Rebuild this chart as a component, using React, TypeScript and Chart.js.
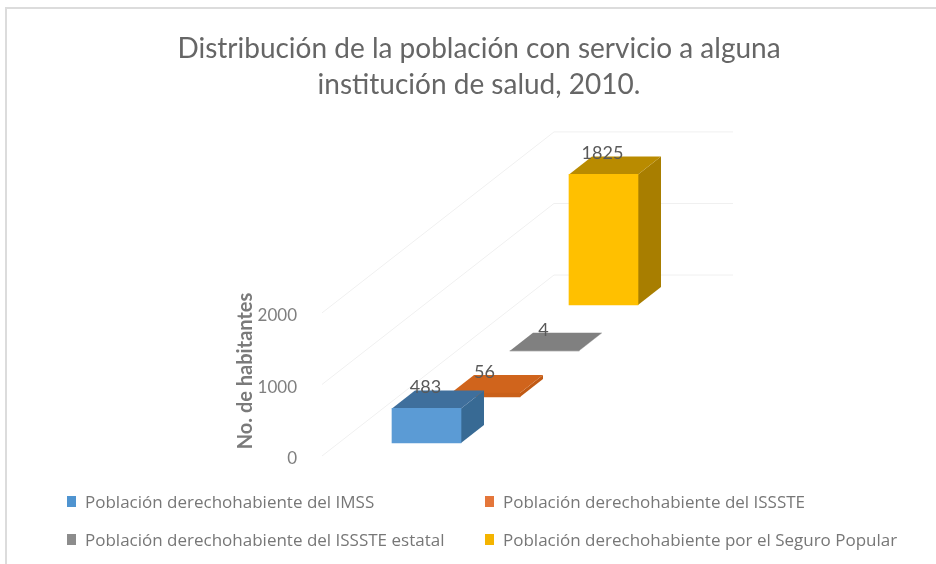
import React, { useEffect, useRef } from "react";
import { Chart, registerables } from "chart.js";

Chart.register(...registerables);

const titleLines = ["Distribución de la población con servicio a alguna", "institución de salud, 2010."];
const axisTitle = "No. de habitantes";
const categories = ["2010"];
const seriesNames = [
  "Población derechohabiente del IMSS",
  "Población derechohabiente del ISSSTE",
  "Población derechohabiente del ISSSTE estatal",
  "Población derechohabiente por el Seguro Popular",
];
const seriesValues = [483, 56, 4, 1825];
const frontColors = ["#5b9bd5", "#c9601a", "#7f7f7f", "#ffc000"];
const topColors = ["#3f6f9c", "#d0641c", "#808080", "#b98b00"];
const sideColors = ["#386a94", "#c05a14", "#777777", "#a87e00"];
const legendColors = ["#4f94d0", "#e4763a", "#8c8c8c", "#f4b400"];

const DX0 = -200.5, LIFT = 16, STEP_X = 59, STEP_Y = 46, DEPTH_X = 23, DEPTH_Y = 18, WALL_END = 733;

const depthPlugin = {
  id: "depth3d",
  afterDatasetsUpdate(chart: any) {
    chart.getSortedVisibleDatasetMetas().forEach((meta: any) => {
      const i = meta.index;
      meta.data.forEach((el: any) => {
        el.x += DX0 + STEP_X * i;
        el.y -= LIFT + STEP_Y * i;
        el.base -= LIFT + STEP_Y * i;
      });
    });
  },
  beforeDatasetsDraw(chart: any) {
    const { ctx, chartArea, scales } = chart;
    ctx.save();
    ctx.strokeStyle = "#f0f0f0";
    ctx.lineWidth = 1;
    scales.y.ticks.forEach((t: any) => {
      const y0 = scales.y.getPixelForValue(t.value);
      ctx.beginPath();
      ctx.moveTo(chartArea.left + 4, y0 - 3);
      ctx.lineTo(chartArea.left + 4 * STEP_X, y0 - 4 * STEP_Y);
      ctx.lineTo(WALL_END, y0 - 4 * STEP_Y);
      ctx.stroke();
    });
    ctx.restore();
  },
  beforeDatasetDraw(chart: any, args: any) {
    const { ctx } = chart;
    const i = args.index;
    args.meta.data.forEach((el: any) => {
      const l = el.x - el.width / 2, r = el.x + el.width / 2, t = el.y, b = el.base;
      ctx.save();
      ctx.fillStyle = sideColors[i];
      ctx.beginPath();
      ctx.moveTo(r, t);
      ctx.lineTo(r + DEPTH_X, t - DEPTH_Y);
      ctx.lineTo(r + DEPTH_X, b - DEPTH_Y);
      ctx.lineTo(r, b);
      ctx.closePath();
      ctx.fill();
      ctx.fillStyle = topColors[i];
      ctx.beginPath();
      ctx.moveTo(l, t);
      ctx.lineTo(l + DEPTH_X, t - DEPTH_Y);
      ctx.lineTo(r + DEPTH_X, t - DEPTH_Y);
      ctx.lineTo(r, t);
      ctx.closePath();
      ctx.fill();
      ctx.restore();
    });
  },
  afterDatasetsDraw(chart: any) {
    const { ctx } = chart;
    ctx.save();
    ctx.font = "18px Lato";
    ctx.fillStyle = "#595959";
    ctx.textAlign = "center";
    ctx.textBaseline = "middle";
    chart.getSortedVisibleDatasetMetas().forEach((meta: any) => {
      meta.data.forEach((el: any, k: number) => {
        ctx.fillText(String(chart.data.datasets[meta.index].data[k]), el.x - 1, el.y - 21);
      });
    });
    ctx.restore();
    ctx.save();
    ctx.translate(246, 371);
    ctx.rotate(-Math.PI / 2);
    ctx.font = "bold 20px Lato";
    ctx.fillStyle = "#7a7a7a";
    ctx.textAlign = "center";
    ctx.textBaseline = "middle";
    ctx.fillText(axisTitle, 0, 0);
    ctx.restore();
  },
};

export default function App() {
  const ref = useRef<HTMLCanvasElement>(null);
  useEffect(() => {
    const chart = new Chart(ref.current!, {
      type: "bar",
      data: {
        labels: categories,
        datasets: seriesNames.map((name, i) => ({
          label: name,
          data: [seriesValues[i]],
          backgroundColor: frontColors[i],
          borderWidth: 0,
          barThickness: 69,
          grouped: false,
          clip: false,
        })),
      },
      options: {
        responsive: false,
        animation: false,
        layout: { padding: { left: 22, right: 0, top: 0, bottom: 105 } },
        plugins: {
          legend: { display: false },
          tooltip: { enabled: false },
          title: {
            display: true,
            text: titleLines,
            color: "#666666",
            font: { family: "Lato", size: 28, weight: "normal", lineHeight: 1.32 },
            padding: { top: 30, bottom: 212 },
          },
        },
        scales: {
          x: { display: false, grid: { display: false } },
          y: {
            min: 0,
            max: 2000,
            grid: { display: false },
            border: { display: false },
            afterFit(scale: any) {
              scale.width = 296;
            },
            ticks: {
              stepSize: 1000,
              padding: 13,
              color: "#7f7f7f",
              font: { family: "Lato", size: 17 },
              callback: (v: any) => String(v),
            },
          },
        },
      } as any,
      plugins: [depthPlugin],
    } as any);
    return () => chart.destroy();
  }, []);

  const legendPos = [
    [67, 501],
    [485, 501],
    [67, 539],
    [485, 539],
  ];
  return (
    <div style={{ position: "fixed", left: 0, top: 0, width: 936, height: 564, background: "#fff", overflow: "hidden", filter: "blur(0.7px)" }}>
      <div style={{ position: "absolute", left: 5, top: 7, width: 940, height: 570, borderLeft: "2px solid #dcdcdc", borderTop: "2px solid #dcdcdc" }} />
      <canvas ref={ref} width={936} height={564} style={{ position: "absolute", left: 0, top: 0 }} />
      {seriesNames.map((name, i) => (
        <div key={name} style={{ position: "absolute", left: legendPos[i][0], top: legendPos[i][1] - 10, height: 20, display: "flex", alignItems: "center", whiteSpace: "nowrap" }}>
          <span style={{ display: "inline-block", width: 9, height: 11, background: legendColors[i], marginRight: 9 }} />
          <span style={{ font: "17px 'Open Sans'", color: "#777777" }}>{name}</span>
        </div>
      ))}
    </div>
  );
}
